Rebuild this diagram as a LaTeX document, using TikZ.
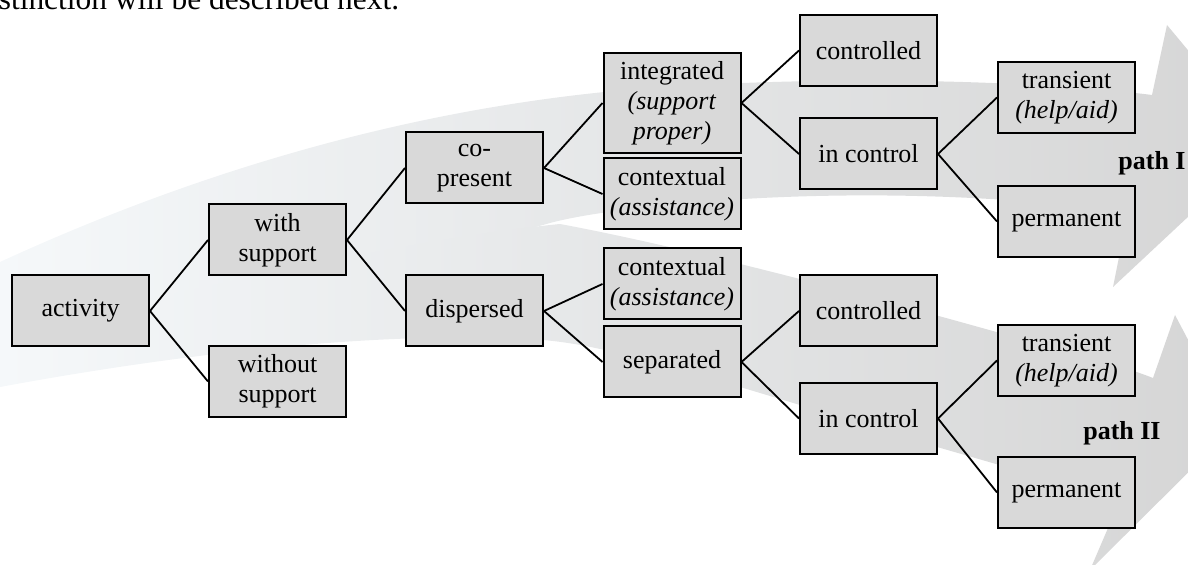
\documentclass[tikz,border=0pt]{standalone}
\usepackage{fontspec}
\setmainfont{Liberation Serif}
\usepackage{tikz}
\usetikzlibrary{calc}

\definecolor{boxgray}{HTML}{D9D9D9}
\definecolor{bandleft}{HTML}{F5F8FA}
\definecolor{bandmid}{HTML}{F0F2F3}
\definecolor{bandright}{HTML}{D5D5D5}

\begin{document}
\begin{tikzpicture}
        [x=0.5pt,y=-0.5pt,
        box/.style={shape=rectangle,draw,fill=boxgray,line width=1pt,
        minimum width=68.5pt,minimum height=35.5pt,inner sep=1pt,align=center,
        font=\fontsize{13}{15}\selectfont},
        pathlabel/.style={font=\fontsize{13}{15}\selectfont\bfseries,inner sep=0pt}]
        \useasboundingbox (0,0) rectangle (1188,565);
        \clip (0,0) rectangle (1188,565);
        %% background arrows
        \shade[left color=bandleft,middle color=bandmid,right color=bandright]
          (0,262) .. controls (200,170) and (420,105) .. (650,88)
          .. controls (850,74) and (1050,82) .. (1152,95)
          -- (1167,25) -- (1266,144) -- (1113,287) -- (1128,212)
          .. controls (1000,195) and (850,190) .. (700,202)
          .. controls (630,208) and (580,215) .. (550,223)
          .. controls (400,265) and (200,330) .. (0,387) -- cycle;
        \shade[left color=bandleft,middle color=bandmid,right color=bandright]
          (0,330) .. controls (200,290) and (400,240) .. (560,224)
          .. controls (700,250) and (900,305) .. (1000,333)
          .. controls (1070,352) and (1120,365) .. (1153,378)
          -- (1175,315) -- (1234,427) -- (1090,570) -- (1120,500)
          .. controls (1050,480) and (1000,465) .. (937,447)
          .. controls (850,420) and (800,405) .. (740,387)
          .. controls (650,362) and (600,345) .. (543,340)
          .. controls (400,330) and (200,350) .. (0,387) -- cycle;
        %% cut-off text line above
        \node[anchor=base west,inner sep=0pt,font=\fontsize{15.7}{18}\selectfont]
          (prev) at (-26,10) {distinction will be described next.};
        %%
        \node[box] (act) at (80.5,311) {activity};
        \node[box] (wsup) at (277.5,240) {with\\support};
        \node[box] (wosup) at (277.5,381.5) {without\\support};
        %%
        \node[box] (copres) at (474.5,168) {co-\\present};
        \node[box] (disp) at (474.5,311) {dispersed};
        %%
        \node[box,minimum height=50pt] (integ) at (672,103)
          {integrated\\\textit{(support}\\\textit{proper)}};
        \node[box] (ctxa) at (672,194) {contextual\\\textit{(assistance)}};
        \node[box] (ctxb) at (672,284) {contextual\\\textit{(assistance)}};
        \node[box] (sep) at (672,362) {separated};
        %%
        \node[box] (ctrla) at (868.5,50.5) {controlled};
        \node[box] (inca) at (868.5,154) {in control};
        \node[box] (ctrlb) at (868.5,311) {controlled};
        \node[box] (incb) at (868.5,418.5) {in control};
        %%
        \node[box] (trana) at (1066.5,97.5) {transient\\\textit{(help/aid)}};
        \node[box] (perma) at (1066.5,221.5) {permanent};
        \node[box] (tranb) at (1066.5,360.5) {transient\\\textit{(help/aid)}};
        \node[box] (permb) at (1066.5,492.5) {permanent};
        %%
        \node[pathlabel,anchor=east] (pathone) at (1186,163) {path I};
        \node[pathlabel,anchor=east] (pathtwo) at (1161,433) {path II};
        \path
        \foreach \startNode/\endNode in {act/wsup, act/wosup, wsup/copres,
          wsup/disp, copres/integ, copres/ctxa, disp/ctxb, disp/sep,
          integ/ctrla, integ/inca, sep/ctrlb, sep/incb, inca/trana,
          inca/perma, incb/tranb, incb/permb}
        {
          (\startNode.east) edge[-,line width=0.9pt] (\endNode.west)
        };
        \end{tikzpicture}
\end{document}
